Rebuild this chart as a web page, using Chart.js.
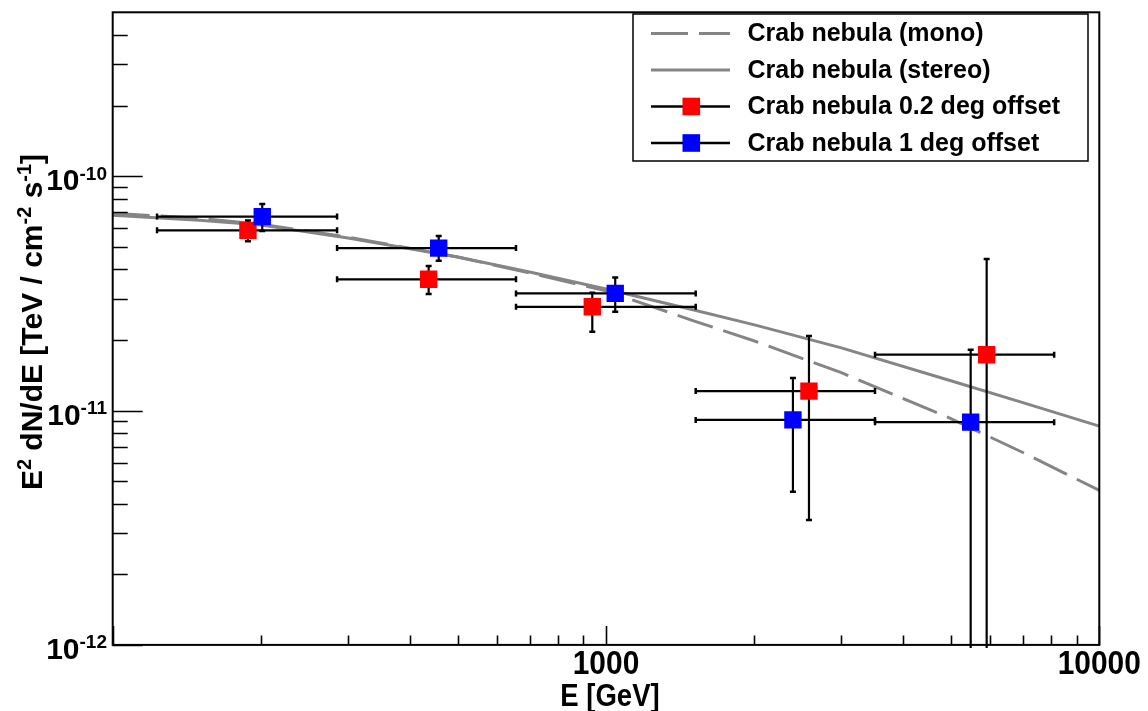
<!DOCTYPE html>
<html>
<head>
<meta charset="utf-8">
<script src="https://cdn.jsdelivr.net/npm/chart.js@4.4.0/dist/chart.umd.min.js"></script>
<style>
  html, body { margin: 0; padding: 0; background: #ffffff; }
  #wrap { width: 1148px; height: 711px; }
</style>
</head>
<body>
<div id="wrap"><canvas id="c" width="1148" height="711"></canvas></div>
<script>
// Energy bins [GeV] shared by both offset measurements
const binLow  = [123, 285, 657, 1520, 3510];
const binHigh = [285, 657, 1520, 3510, 8100];

// Crab nebula, 0.2 deg offset
const off02E    = [188, 437, 938, 2579, 5911];
const off02Flux = [5.87e-11, 3.63e-11, 2.77e-11, 1.21e-11, 1.73e-11];
const off02Lo   = [5.27e-11, 3.14e-11, 2.17e-11, 3.41e-12, 0];
const off02Hi   = [6.47e-11, 4.14e-11, 3.18e-11, 2.08e-11, 4.43e-11];

// Crab nebula, 1 deg offset
const off1E    = [201, 458, 1044, 2393, 5486];
const off1Flux = [6.72e-11, 4.93e-11, 3.16e-11, 9.12e-12, 8.92e-12];
const off1Lo   = [5.83e-11, 4.35e-11, 2.64e-11, 4.50e-12, 0];
const off1Hi   = [7.60e-11, 5.55e-11, 3.69e-11, 1.375e-11, 1.815e-11];

// Reference spectra (mono / stereo)
const curveE     = [100, 150, 200, 300, 500, 700, 1000, 1500, 2000, 3000, 5000, 7000, 10000];
const monoFlux   = [6.94e-11, 6.61e-11, 6.24e-11, 5.49e-11, 4.52e-11, 3.86e-11, 3.24e-11, 2.42e-11, 1.98e-11, 1.45e-11, 9.24e-12, 6.62e-12, 4.56e-12];
const stereoFlux = [6.81e-11, 6.49e-11, 6.18e-11, 5.44e-11, 4.52e-11, 3.90e-11, 3.30e-11, 2.69e-11, 2.32e-11, 1.85e-11, 1.34e-11, 1.08e-11, 8.58e-12];

// Axis labels
const xTickValues = [1000, 10000];
const xTickLabels = ['1000', '10000'];
const yTickExponents = [-12, -11, -10];
const xTitle = 'E [GeV]';
const seriesNames = ['Crab nebula (mono)', 'Crab nebula (stereo)', 'Crab nebula 0.2 deg offset', 'Crab nebula 1 deg offset'];

const FONT = '"Liberation Sans", Arial, Helvetica, sans-serif';
const GREY = '#858585';

function pts(xs, ys) { return xs.map((x, i) => ({ x: x, y: ys[i] })); }

const datasets = [
  { label: seriesNames[0], data: pts(curveE, monoFlux), showLine: true, borderColor: GREY, borderWidth: 3,
    borderDash: [37, 11], pointRadius: 0, fill: false, order: 4 },
  { label: seriesNames[1], data: pts(curveE, stereoFlux), showLine: true, borderColor: GREY, borderWidth: 3,
    pointRadius: 0, fill: false, order: 3 },
  { label: seriesNames[2], data: pts(off02E, off02Flux), showLine: false, pointStyle: 'rect', pointRadius: 12.3,
    pointBorderWidth: 0, backgroundColor: '#ff0000', borderColor: '#ff0000', order: 2,
    errX: [binLow, binHigh], errY: [off02Lo, off02Hi] },
  { label: seriesNames[3], data: pts(off1E, off1Flux), showLine: false, pointStyle: 'rect', pointRadius: 12.3,
    pointBorderWidth: 0, backgroundColor: '#0000ff', borderColor: '#0000ff', order: 1,
    errX: [binLow, binHigh], errY: [off1Lo, off1Hi] }
];

// Error bars are drawn right before their own markers
const errorBars = {
  id: 'errorBars',
  beforeDatasetDraw(chart, args) {
    const ds = chart.data.datasets[args.index];
    if (!ds.errX) return;
    const xs = chart.scales.x, ys = chart.scales.y, a = chart.chartArea;
    const ctx = chart.ctx;
    ctx.save();
    ctx.beginPath(); ctx.rect(a.left, a.top, a.right - a.left, a.bottom - a.top + 3); ctx.clip();
    ctx.strokeStyle = '#000'; ctx.lineWidth = 2.2; ctx.lineCap = 'butt';
    const cap = 3;
    ds.data.forEach((p, i) => {
      const px = xs.getPixelForValue(p.x), py = ys.getPixelForValue(p.y);
      const x0 = xs.getPixelForValue(ds.errX[0][i]), x1 = xs.getPixelForValue(ds.errX[1][i]);
      const lo = ds.errY[0][i], hi = ds.errY[1][i];
      const y0 = lo > 0 ? ys.getPixelForValue(lo) : a.bottom + 5;
      const y1 = ys.getPixelForValue(hi);
      ctx.beginPath();
      ctx.moveTo(x0, py); ctx.lineTo(x1, py);
      ctx.moveTo(px, y0); ctx.lineTo(px, y1);
      ctx.stroke();
      ctx.lineWidth = 2.5;
      ctx.beginPath();
      ctx.moveTo(x0, py - cap); ctx.lineTo(x0, py + cap);
      ctx.moveTo(x1, py - cap); ctx.lineTo(x1, py + cap);
      ctx.moveTo(px - cap, y1); ctx.lineTo(px + cap, y1);
      if (lo > 0) { ctx.moveTo(px - cap, y0); ctx.lineTo(px + cap, y0); }
      ctx.stroke();
      ctx.lineWidth = 2.2;
    });
    ctx.restore();
  }
};

function drawSupText(ctx, parts, x, y, big, small, rise) {
  // parts: [text, isSuperscript]
  let cx = x;
  parts.forEach(([t, sup]) => {
    ctx.font = 'bold ' + (sup ? small : big) + 'px ' + FONT;
    ctx.fillText(t, cx, sup ? y - rise : y);
    cx += ctx.measureText(t).width;
  });
  return cx - x;
}
function measureSupText(ctx, parts, big, small) {
  let w = 0;
  parts.forEach(([t, sup]) => {
    ctx.font = 'bold ' + (sup ? small : big) + 'px ' + FONT;
    w += ctx.measureText(t).width;
  });
  return w;
}

// Frame, inward ticks, tick labels, titles, legend
const decorations = {
  id: 'decorations',
  afterDraw(chart) {
    const ctx = chart.ctx, a = chart.chartArea, xs = chart.scales.x, ys = chart.scales.y;
    ctx.save();
    ctx.strokeStyle = '#000'; ctx.fillStyle = '#000';

    // ticks
    ctx.lineWidth = 1.6;
    ctx.beginPath();
    for (let d = 100; d <= 10000; d *= 10) {
      for (let m = 1; m <= 9; m++) {
        const v = d * m;
        if (v < xs.min || v > xs.max) continue;
        const px = Math.round(xs.getPixelForValue(v)) + 0.5;
        const len = m === 1 ? 19 : 9.5;
        ctx.moveTo(px, a.bottom); ctx.lineTo(px, a.bottom - len);
      }
    }
    for (let d = 1e-12; d < 1e-9; d *= 10) {
      for (let m = 1; m <= 9; m++) {
        const v = d * m;
        if (v < ys.min * 0.999 || v > ys.max * 0.999) continue;
        const py = Math.round(ys.getPixelForValue(v)) + 0.5;
        const len = m === 1 ? 30 : 15;
        ctx.moveTo(a.left, py); ctx.lineTo(a.left + len, py);
      }
    }
    ctx.stroke();

    // frame
    ctx.lineWidth = 2;
    ctx.strokeRect(a.left, a.top, a.right - a.left, a.bottom - a.top);

    // x tick labels
    ctx.textAlign = 'center'; ctx.textBaseline = 'alphabetic';
    ctx.font = 'bold 34px ' + FONT;
    xTickValues.forEach((v, i) => {
      const px = xs.getPixelForValue(v);
      ctx.save();
      ctx.translate(px, 674); ctx.scale(0.88, 1);
      ctx.fillText(xTickLabels[i], 0, 0);
      ctx.restore();
    });

    // y tick labels: 10^n
    ctx.textAlign = 'left';
    yTickExponents.forEach(e => {
      const py = ys.getPixelForValue(Math.pow(10, e));
      const parts = [['10', false], [String(e), true]];
      const w = measureSupText(ctx, parts, 30, 19);
      drawSupText(ctx, parts, 107 - w, py + 14, 30, 19, 10.5);
    });

    // x title
    ctx.textAlign = 'center';
    ctx.font = 'bold 32px ' + FONT;
    ctx.save();
    ctx.translate((a.left + a.right) / 2 + 4, 706); ctx.scale(0.86, 1);
    ctx.fillText(xTitle, 0, 0);
    ctx.restore();

    // y title, rotated
    ctx.save();
    ctx.textAlign = 'left';
    const yParts = [['E', false], ['2', true], [' dN/dE [TeV / cm', false], ['-2', true], [' s', false], ['-1', true], [']', false]];
    const tw = measureSupText(ctx, yParts, 30, 20);
    ctx.translate(41.5, 322);
    ctx.rotate(-Math.PI / 2);
    drawSupText(ctx, yParts, -tw / 2, 0, 30, 20, 11);
    ctx.restore();

    // legend
    const L = { x0: 633, y0: 14, x1: 1088, y1: 161 };
    ctx.fillStyle = '#fff';
    ctx.fillRect(L.x0, L.y0, L.x1 - L.x0, L.y1 - L.y0);
    ctx.lineWidth = 1.5; ctx.strokeStyle = '#000';
    ctx.strokeRect(L.x0, L.y0, L.x1 - L.x0, L.y1 - L.y0);
    const rows = [33.5, 70, 106.5, 143];
    const order = [0, 1, 2, 3];
    ctx.textAlign = 'left'; ctx.textBaseline = 'middle';
    order.forEach((di, r) => {
      const ds = chart.data.datasets[di];
      const y = rows[r];
      ctx.save();
      if (ds.showLine) {
        ctx.strokeStyle = ds.borderColor; ctx.lineWidth = 3;
        ctx.setLineDash(ds.borderDash || []);
        ctx.beginPath(); ctx.moveTo(651, y); ctx.lineTo(730, y); ctx.stroke();
      } else {
        ctx.strokeStyle = '#000'; ctx.lineWidth = 2.5;
        ctx.beginPath(); ctx.moveTo(651, y); ctx.lineTo(730, y); ctx.stroke();
        ctx.fillStyle = ds.backgroundColor;
        ctx.fillRect(682.5, y - 8.8, 17.6, 17.6);
      }
      ctx.restore();
      ctx.fillStyle = '#000';
      ctx.font = 'bold 25px ' + FONT;
      ctx.fillText(ds.label, 747.5, y + 1);
    });
    ctx.restore();
  }
};

new Chart(document.getElementById('c'), {
  type: 'scatter',
  data: { datasets: datasets },
  options: {
    responsive: false,
    devicePixelRatio: 1,
    animation: false,
    layout: { padding: { left: 0, top: 8.3, right: 48.7, bottom: 0 } },
    plugins: { legend: { display: false }, tooltip: { enabled: false } },
    scales: {
      x: {
        type: 'logarithmic', min: 100, max: 10000,
        grid: { display: false }, border: { display: false },
        ticks: { display: false },
        afterFit(s) { s.height = 66.1; }
      },
      y: {
        type: 'logarithmic', min: 1e-12, max: 5e-10,
        grid: { display: false }, border: { display: false },
        ticks: { display: false },
        afterFit(s) { s.width = 112.7; }
      }
    }
  },
  plugins: [errorBars, decorations]
});
</script>
</body>
</html>
